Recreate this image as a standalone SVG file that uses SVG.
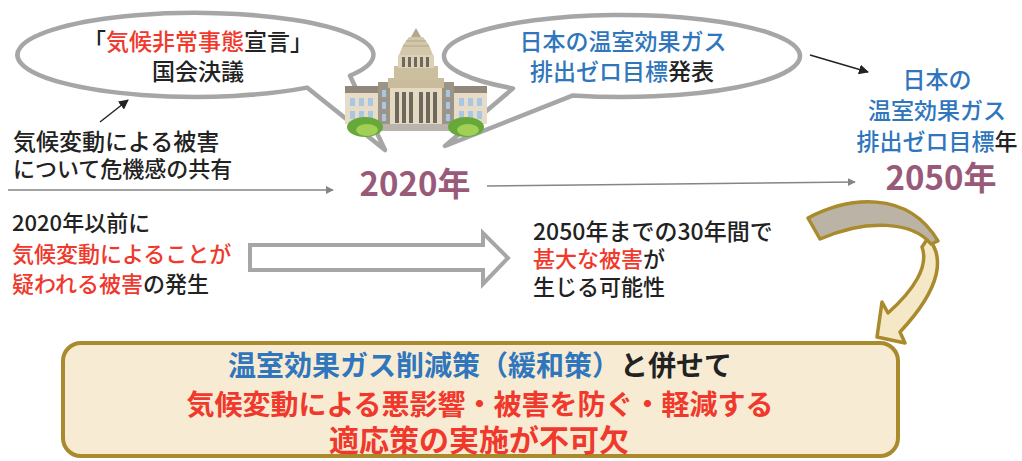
<svg xmlns="http://www.w3.org/2000/svg" width="1022" height="461" viewBox="0 0 1022 461">
  <style>
    text { font-family: "Noto Sans CJK JP", "Noto Sans", sans-serif; fill: #222; font-weight: 500; }
    .t22 { font-size: 22px; }
    .t23 { font-size: 23px; }
    .red { fill: #f0382c; }
    .blue { fill: #2f76bd; }
    .year { font-size: 33px; font-weight: 700; fill: #985a78; }
    .box { font-size: 28px; font-weight: 700; }
    .bubble { fill: #fff; stroke: #a6a6a6; stroke-width: 4.5; stroke-linejoin: round; }
    .tl { stroke: #858585; stroke-width: 1.6; fill: none; }
    .pt { stroke: #222; stroke-width: 1.4; fill: none; }
    .gold { stroke: #a98a2d; stroke-width: 3.5; stroke-linejoin: round; }
  </style>
  <defs>
    <marker id="headGray" viewBox="0 0 10 10" refX="9" refY="5" markerWidth="8" markerHeight="8" markerUnits="userSpaceOnUse" orient="auto">
      <path d="M0,0 L10,5 L0,10 Z" fill="#858585"/>
    </marker>
    <marker id="headBlack" viewBox="0 0 10 10" refX="9" refY="5" markerWidth="10" markerHeight="10" markerUnits="userSpaceOnUse" orient="auto">
      <path d="M0,0 L10,5 L0,10 Z" fill="#222"/>
    </marker>
  </defs>

  <!-- speech bubbles -->
  <g id="bubble-left">
    <path class="bubble" d="M350,75.7 A178,42 0 1 0 307,87.6 L385,150 Z"/>
    <text class="t23" x="198" y="50" text-anchor="middle">「<tspan class="red">気候非常事態</tspan>宣言」</text>
    <text class="t23" x="198" y="80" text-anchor="middle">国会決議</text>
  </g>
  <g id="bubble-right">
    <path class="bubble" d="M573,95.4 A178,41 0 1 0 513,88.4 L445,146 Z"/>
    <text class="t23 blue" x="623" y="50" text-anchor="middle">日本の温室効果ガス</text>
    <text class="t23" x="622" y="80" text-anchor="middle"><tspan class="blue">排出ゼロ目標</tspan>発表</text>
  </g>

  <!-- parliament building -->
  <g id="parliament">
    <rect x="350" y="123" width="132" height="8" fill="#b9b4ab"/>
    <!-- wings -->
    <rect x="345" y="88" width="34" height="36" fill="#e6dcc7"/>
    <rect x="345" y="86" width="34" height="7" fill="#8f887b"/>
    <rect x="453" y="88" width="34" height="36" fill="#e6dcc7"/>
    <rect x="453" y="86" width="34" height="7" fill="#8f887b"/>
    <g fill="#a9c7e2">
      <rect x="350" y="98" width="5" height="8"/><rect x="359" y="98" width="5" height="8"/><rect x="368" y="98" width="5" height="8"/>
      <rect x="350" y="111" width="5" height="8"/><rect x="359" y="111" width="5" height="8"/><rect x="368" y="111" width="5" height="8"/>
      <rect x="459" y="98" width="5" height="8"/><rect x="468" y="98" width="5" height="8"/><rect x="477" y="98" width="5" height="8"/>
      <rect x="459" y="111" width="5" height="8"/><rect x="468" y="111" width="5" height="8"/><rect x="477" y="111" width="5" height="8"/>
    </g>
    <!-- side towers -->
    <rect x="378" y="82" width="12" height="42" fill="#9c9587"/>
    <rect x="442" y="82" width="12" height="42" fill="#9c9587"/>
    <g fill="#a9c7e2">
      <rect x="382" y="90" width="4" height="7"/><rect x="382" y="102" width="4" height="7"/><rect x="382" y="114" width="4" height="7"/>
      <rect x="446" y="90" width="4" height="7"/><rect x="446" y="102" width="4" height="7"/><rect x="446" y="114" width="4" height="7"/>
    </g>
    <!-- central block -->
    <rect x="390" y="80" width="52" height="44" fill="#e4d9c1"/>
    <rect x="388" y="78" width="56" height="10" fill="#c9bb9b"/>
    <g fill="#6f685c">
      <rect x="395" y="92" width="4" height="31"/><rect x="402" y="92" width="4" height="31"/>
      <rect x="409" y="92" width="4" height="31"/><rect x="419" y="92" width="4" height="31"/>
      <rect x="426" y="92" width="4" height="31"/><rect x="433" y="92" width="4" height="31"/>
    </g>
    <!-- drum and dome -->
    <rect x="394" y="66" width="44" height="14" fill="#cbbf9f"/>
    <rect x="398" y="55" width="36" height="13" fill="#ddd1b7"/>
    <g fill="#6f685c">
      <rect x="402" y="57" width="3" height="10"/><rect x="408" y="57" width="3" height="10"/>
      <rect x="414" y="57" width="3" height="10"/><rect x="420" y="57" width="3" height="10"/>
      <rect x="426" y="57" width="3" height="10"/>
    </g>
    <path d="M399,55 L403,45 L409,37 L423,37 L429,45 L433,55 Z" fill="#d3c7ab"/>
    <path d="M403,46 H429 M406,41 H426" stroke="#b3a78c" stroke-width="1.2"/>
    <path d="M411,37 L416,28 L421,37 Z" fill="#b3a78c"/>
    <!-- shrubs -->
    <ellipse cx="365" cy="127" rx="18" ry="10" fill="#66a93a"/>
    <ellipse cx="367" cy="130" rx="11" ry="6" fill="#a2cf56"/>
    <ellipse cx="466" cy="127" rx="18" ry="10" fill="#66a93a"/>
    <ellipse cx="468" cy="130" rx="11" ry="6" fill="#a2cf56"/>
  </g>

  <!-- free text -->
  <g id="note-crisis">
    <text class="t23" x="13" y="150">気候変動による被害</text>
    <text class="t22" x="13" y="177">について危機感の共有</text>
  </g>
  <g id="year-2020">
    <text class="year" x="415" y="196" text-anchor="middle">2020年</text>
  </g>
  <g id="year-2050">
    <text class="t23 blue" x="937" y="88" text-anchor="middle">日本の</text>
    <text class="t23 blue" x="937" y="119" text-anchor="middle">温室効果ガス</text>
    <text class="t23" x="937" y="150" text-anchor="middle"><tspan class="blue">排出ゼロ目標</tspan>年</text>
    <text class="year" x="941" y="190" text-anchor="middle">2050年</text>
  </g>
  <g id="note-before">
    <text class="t22" x="12" y="231">2020年以前に</text>
    <text class="t22 red" x="12" y="262">気候変動によることが</text>
    <text class="t22" x="12" y="292"><tspan class="red">疑われる被害</tspan>の発生</text>
  </g>
  <g id="note-after">
    <text class="t23" x="533" y="240">2050年までの30年間で</text>
    <text class="t22" x="533" y="267"><tspan class="red">甚大な被害</tspan>が</text>
    <text class="t22" x="533" y="295">生じる可能性</text>
  </g>

  <!-- conclusion box -->
  <g id="conclusion">
    <rect x="63" y="343" width="835" height="113" rx="18" fill="#f7ecd3" stroke="#a98a2d" stroke-width="4"/>
    <text class="box" x="480" y="376" text-anchor="middle"><tspan class="blue">温室効果ガス削減策（緩和策）</tspan>と併せて</text>
    <text class="box red" x="480" y="415" text-anchor="middle">気候変動による悪影響・被害を防ぐ・軽減する</text>
    <text class="box red" x="479" y="451" text-anchor="middle" style="font-size:30px">適応策の実施が不可欠</text>
  </g>

  <!-- connectors -->
  <g id="connectors">
    <line class="tl" x1="8" y1="190" x2="333" y2="190" marker-end="url(#headGray)"/>
    <line class="tl" x1="487" y1="186" x2="855" y2="182" marker-end="url(#headGray)"/>
    <line class="pt" x1="100" y1="122" x2="128" y2="100" marker-end="url(#headBlack)"/>
    <line class="pt" x1="810" y1="55" x2="868" y2="72" marker-end="url(#headBlack)"/>
    <path d="M250,245 H483 V233 L508,258 L483,284 V270 H250 Z" fill="#fff" stroke="#a6a6a6" stroke-width="4" stroke-linejoin="miter"/>
    <!-- curved ribbon arrow -->
    <path class="gold" fill="#f5e8c6" d="M928,238 C944,256 943,286 900,332 L905,343 L877,337 L882,302 L888,313 C914,290 929,266 922,247 Z"/>
    <path class="gold" fill="#bbb4a6" d="M808,218 C848,197 907,189 938,241 L931,244 C913,222 868,218 820,239 Z"/>
  </g>
</svg>
